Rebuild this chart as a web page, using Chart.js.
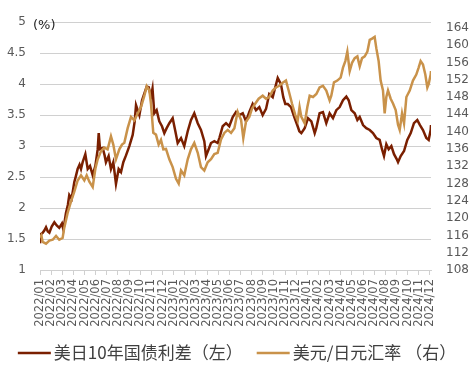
<!DOCTYPE html>
<html>
<head>
<meta charset="utf-8">
<script src="https://cdn.jsdelivr.net/npm/chart.js@4"></script>
<style>
  html, body { margin: 0; padding: 0; background: #ffffff; }
  #wrap { width: 474px; height: 379px; position: relative; }
</style>
</head>
<body>
<div id="wrap"><canvas id="c" width="474" height="379"></canvas></div>
<script>
// ---- data ----
const monthLabels = [
  '2022/01','2022/02','2022/03','2022/04','2022/05','2022/06','2022/07','2022/08','2022/09','2022/10','2022/11','2022/12',
  '2023/01','2023/02','2023/03','2023/04','2023/05','2023/06','2023/07','2023/08','2023/09','2023/10','2023/11','2023/12',
  '2024/01','2024/02','2024/03','2024/04','2024/05','2024/06','2024/07','2024/08','2024/09','2024/10','2024/11','2024/12'
];
const leftTicks = [1, 1.5, 2, 2.5, 3, 3.5, 4, 4.5, 5];
const rightTicks = [108, 112, 116, 120, 124, 128, 132, 136, 140, 144, 148, 152, 156, 160, 164];
const seriesNames = ['美日10年国债利差（左）', '美元/日元汇率 （右）'];
const unitLabel = '(%)';

// time in months since 2022/01
const spreadT = [0.00,0.10,0.24,0.40,0.54,0.70,0.84,1.05,1.29,1.50,1.73,1.97,2.10,2.33,2.50,2.63,2.84,3.08,3.20,3.38,3.55,3.68,3.83,4.07,4.28,4.49,4.73,4.97,5.18,5.27,5.39,5.63,5.80,5.92,6.16,6.37,6.58,6.82,7.06,7.27,7.48,7.72,8.02,8.32,8.50,8.62,8.92,9.16,9.37,9.58,9.76,9.96,10.10,10.26,10.47,10.71,10.95,11.16,11.37,11.61,11.91,12.15,12.36,12.66,12.95,13.26,13.55,13.85,14.16,14.45,14.75,14.90,15.14,15.35,15.65,15.95,16.10,16.40,16.70,16.99,17.30,17.60,17.89,18.20,18.49,18.79,19.09,19.39,19.69,19.99,20.29,20.58,20.89,21.12,21.34,21.63,21.84,22.02,22.24,22.53,22.83,23.13,23.28,23.46,23.76,24.06,24.36,24.66,24.80,25.10,25.40,25.70,26.00,26.30,26.60,26.90,27.20,27.50,27.71,27.95,28.25,28.49,28.70,29.00,29.29,29.60,29.89,30.19,30.49,30.70,30.88,31.09,31.30,31.54,31.78,32.02,32.14,32.38,32.68,32.97,33.28,33.57,33.87,34.11,34.38,34.68,34.89,35.07,35.10];
const spreadV = [1.43,1.58,1.60,1.64,1.69,1.62,1.60,1.70,1.77,1.72,1.68,1.75,1.65,1.92,2.05,2.21,2.15,2.42,2.50,2.63,2.70,2.63,2.74,2.87,2.63,2.68,2.53,2.68,2.95,3.21,2.95,2.97,2.85,2.74,2.84,2.63,2.74,2.39,2.63,2.58,2.74,2.85,3.00,3.18,3.40,3.66,3.50,3.74,3.85,3.96,3.95,3.80,3.93,3.53,3.58,3.40,3.32,3.21,3.29,3.37,3.45,3.24,3.05,3.13,3.00,3.24,3.42,3.53,3.37,3.26,3.08,2.84,2.95,3.05,3.08,3.05,3.13,3.32,3.37,3.32,3.47,3.55,3.50,3.53,3.40,3.55,3.68,3.58,3.63,3.50,3.60,3.84,3.79,3.95,4.10,4.00,3.79,3.68,3.68,3.63,3.47,3.32,3.24,3.21,3.29,3.45,3.40,3.21,3.29,3.53,3.55,3.37,3.53,3.45,3.58,3.63,3.74,3.80,3.74,3.58,3.53,3.42,3.47,3.34,3.29,3.26,3.21,3.13,3.10,2.95,2.84,3.03,2.95,3.00,2.87,2.79,2.74,2.84,2.92,3.10,3.21,3.37,3.42,3.34,3.26,3.13,3.10,3.26,3.34];

const fxT = [0.00,0.12,0.24,0.54,0.84,1.14,1.44,1.73,2.03,2.18,2.48,2.78,3.08,3.38,3.68,3.98,4.19,4.43,4.73,4.97,5.18,5.48,5.78,6.07,6.37,6.58,6.82,7.12,7.36,7.57,7.87,8.17,8.47,8.77,9.07,9.37,9.58,9.82,9.96,10.17,10.41,10.65,10.86,11.07,11.31,11.61,11.91,12.21,12.45,12.66,12.95,13.26,13.55,13.85,14.16,14.45,14.75,15.05,15.35,15.65,15.95,16.25,16.55,16.85,17.15,17.45,17.74,18.05,18.25,18.49,18.79,19.03,19.33,19.63,19.99,20.29,20.58,20.89,21.18,21.48,21.78,22.08,22.32,22.62,22.92,23.13,23.30,23.46,23.76,24.00,24.21,24.51,24.81,25.10,25.40,25.70,26.00,26.15,26.39,26.69,26.99,27.20,27.41,27.59,27.80,28.01,28.25,28.49,28.70,28.91,29.15,29.39,29.60,29.81,30.04,30.19,30.40,30.58,30.79,30.94,31.09,31.24,31.48,31.69,31.93,32.14,32.29,32.50,32.68,32.89,33.19,33.48,33.78,33.99,34.17,34.38,34.59,34.77,34.89,35.07,35.10];
const fxV = [115.5,116.0,114.5,114.1,114.8,115.0,115.9,115.0,115.4,117.8,121.2,123.8,126.1,128.7,129.9,128.7,129.9,128.4,127.2,131.4,133.6,135.5,136.3,135.9,138.9,137.0,133.6,135.9,137.0,137.4,140.8,143.4,142.6,144.2,145.7,148.3,150.5,149.5,146.5,139.7,139.3,137.0,138.1,135.9,136.0,133.6,131.8,129.1,128.0,131.0,129.9,133.6,135.9,137.4,135.1,131.8,131.0,132.9,133.6,134.8,135.1,138.2,139.7,140.4,139.7,140.8,144.6,142.7,138.5,142.3,143.4,145.3,146.5,147.6,148.3,147.6,148.0,149.5,150.2,150.6,151.3,151.8,149.5,146.5,143.8,142.5,145.7,143.4,141.9,145.7,148.3,148.0,148.7,150.2,150.6,149.5,147.2,148.3,151.4,151.8,152.5,154.8,156.3,158.5,154.0,155.9,157.0,157.4,155.1,157.0,157.4,158.5,161.2,161.5,161.9,159.3,156.3,151.8,149.5,144.2,148.0,149.5,147.6,146.5,145.0,141.6,140.4,144.2,141.9,148.0,149.5,151.8,153.2,154.8,156.3,155.5,153.2,150.2,151.0,153.2,154.0];

// ---- styles ----
const COLOR_SPREAD = '#7a1f00';
const COLOR_FX = '#c9924a';
const GRID = '#d0d0d0';
const TICK_COLOR = '#595959';

const toPoints = (ts, vs) => ts.map((t, i) => ({ x: t, y: vs[i] }));

const extrasPlugin = {
  id: 'extras',
  afterDraw(chart) {
    const ctx = chart.ctx;
    ctx.save();
    // unit label
    ctx.fillStyle = '#262626';
    ctx.font = '13px "DejaVu Sans"';
    ctx.textBaseline = 'middle';
    ctx.textAlign = 'left';
    ctx.fillText(unitLabel, 33, 26);

    // legend
    const lineLen = 33, gap = 3, itemGap = 14;
    ctx.font = '17px "Noto Sans CJK SC"';
    const items = chart.data.datasets.map(ds => ({ text: ds.label, color: ds.borderColor, w: ctx.measureText(ds.label).width }));
    let total = 0;
    items.forEach((it, i) => { total += lineLen + gap + it.w + (i ? itemGap : 0); });
    let x = (chart.width - total) / 2;
    const y = 353;
    items.forEach((it, i) => {
      if (i) x += itemGap;
      ctx.strokeStyle = it.color;
      ctx.lineWidth = 2.5;
      ctx.beginPath();
      ctx.moveTo(x, y);
      ctx.lineTo(x + lineLen, y);
      ctx.stroke();
      x += lineLen + gap;
      ctx.fillStyle = '#404040';
      ctx.fillText(it.text, x, y);
      x += it.w;
    });
    ctx.restore();
  }
};

new Chart(document.getElementById('c'), {
  type: 'line',
  data: {
    datasets: [
      { label: seriesNames[0], data: toPoints(spreadT, spreadV), borderColor: COLOR_SPREAD, backgroundColor: COLOR_SPREAD,
        borderWidth: 2.5, pointRadius: 0, tension: 0, fill: false, yAxisID: 'yL', order: 2 },
      { label: seriesNames[1], data: toPoints(fxT, fxV), borderColor: COLOR_FX, backgroundColor: COLOR_FX,
        borderWidth: 2.5, pointRadius: 0, tension: 0, fill: false, yAxisID: 'yR', order: 1 }
    ]
  },
  options: {
    responsive: false,
    animation: false,
    devicePixelRatio: 1,
    layout: { padding: { top: 17, left: 0, right: 0, bottom: 44 } },
    plugins: { legend: { display: false }, tooltip: { enabled: false } },
    scales: {
      x: {
        type: 'linear',
        min: 0,
        max: 35.1,
        afterBuildTicks: (s) => { s.ticks = monthLabels.map((_, i) => ({ value: i })); },
        afterFit: (s) => { s.height = 65; },
        border: { display: true, color: GRID, width: 1 },
        grid: { display: true, drawOnChartArea: false, drawTicks: true, tickLength: 5, color: GRID, lineWidth: 1 },
        ticks: {
          autoSkip: false, maxRotation: 90, minRotation: 90, padding: 4,
          color: TICK_COLOR, font: { family: 'DejaVu Sans', size: 11.5 },
          callback: (v) => monthLabels[v]
        }
      },
      yL: {
        position: 'left',
        min: 1,
        max: 5,
        afterBuildTicks: (s) => { s.ticks = leftTicks.map(v => ({ value: v })); },
        afterFit: (s) => { s.width = 40; },
        border: { display: false },
        grid: { display: true, drawOnChartArea: true, color: GRID, lineWidth: 1, drawTicks: false },
        ticks: { padding: 14, color: TICK_COLOR, font: { family: 'DejaVu Sans', size: 12 },
          callback: (v) => String(v) }
      },
      yR: {
        position: 'right',
        min: 108,
        max: 165.3,
        afterBuildTicks: (s) => { s.ticks = rightTicks.map(v => ({ value: v })); },
        afterFit: (s) => { s.width = 43; },
        border: { display: false },
        grid: { display: false, drawOnChartArea: false, drawTicks: false },
        ticks: { padding: 15, color: TICK_COLOR, font: { family: 'DejaVu Sans', size: 12 },
          callback: (v) => String(v) }
      }
    }
  },
  plugins: [extrasPlugin]
});
</script>
</body>
</html>
